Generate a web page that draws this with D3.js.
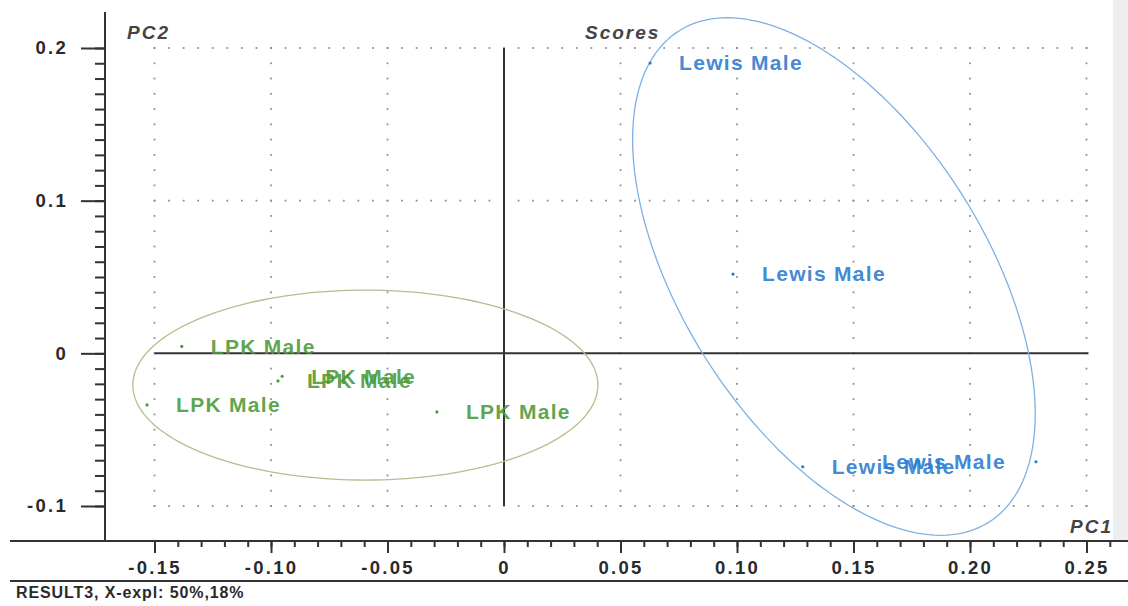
<!DOCTYPE html>
<html>
<head>
<meta charset="utf-8">
<script src="https://cdn.jsdelivr.net/npm/d3@7"></script>
<style>
  body { margin: 0; background: #fff; }
  svg { display: block; font-family: "Liberation Sans", Arial, sans-serif; }
</style>
</head>
<body>
<div id="chart"></div>
<script>
// scores (PC1, PC2) per sample
const lpkPC1 = [-0.1383, -0.0970, -0.0952, -0.1532, -0.0288];
const lpkPC2 = [0.0045, -0.0181, -0.0150, -0.0338, -0.0384];
const lewisPC1 = [0.0627, 0.0983, 0.1282, 0.2283];
const lewisPC2 = [0.1901, 0.0519, -0.0743, -0.0710];

const groupNames = ["LPK Male", "Lewis Male"];
const groupColors = ["#4a9a38", "#2a7ad0"];

// confidence ellipses: centre, half-widths, correlation
const ellCx = [-0.0595, 0.1416];
const ellCy = [-0.0208, 0.0503];
const ellSx = [0.0998, 0.0864];
const ellSy = [0.0622, 0.1695];
const ellR = [0, -0.53];
const ellColors = ["#b9bc8e", "#7db1e4"];

const xTicks = [-0.15, -0.1, -0.05, 0, 0.05, 0.1, 0.15, 0.2, 0.25];
const xTickLabels = ["-0.15", "-0.10", "-0.05", "0", "0.05", "0.10", "0.15", "0.20", "0.25"];
const yTicks = [-0.1, 0, 0.1, 0.2];
const yTickLabels = ["-0.1", "0", "0.1", "0.2"];

const width = 1128;
const height = 606;
const axisX = 105;
const axisY = 541;

const x = d3.scaleLinear().domain([-0.15, 0.25]).range([154.5, 1086.5]);
const y = d3.scaleLinear().domain([-0.1, 0.2]).range([506, 48]);

const svg = d3
  .select("#chart")
  .append("svg")
  .attr("width", width)
  .attr("height", height);

// scanned page edge on the right
svg
  .append("rect")
  .attr("x", 1113)
  .attr("y", 0)
  .attr("width", width - 1113)
  .attr("height", axisY)
  .attr("fill", "#eeeeee");

// grid dots
const gx = d3.range(-0.15, 0.2501, 0.00625);
const gy = d3.range(-0.1, 0.2001, 0.01);
const grid = svg.append("g").attr("fill", "#909090");
const dots = [];
yTicks.filter((v) => v !== 0).forEach((v) => gx.forEach((u) => dots.push([u, v])));
xTicks.filter((v) => v !== 0).forEach((u) => gy.forEach((v) => dots.push([u, v])));
grid
  .selectAll("rect")
  .data(dots)
  .join("rect")
  .attr("x", (d) => x(d[0]) - 0.9)
  .attr("y", (d) => y(d[1]) - 0.9)
  .attr("width", 1.8)
  .attr("height", 1.8);

// zero lines
svg
  .append("line")
  .attr("x1", x(-0.15))
  .attr("x2", x(0.25) + 2)
  .attr("y1", y(0))
  .attr("y2", y(0))
  .attr("stroke", "#333")
  .attr("stroke-width", 2);
svg
  .append("line")
  .attr("x1", x(0))
  .attr("x2", x(0))
  .attr("y1", y(0.2))
  .attr("y2", y(-0.1))
  .attr("stroke", "#333")
  .attr("stroke-width", 2);

// ellipses
const ellLine = d3
  .line()
  .x((d) => x(d[0]))
  .y((d) => y(d[1]))
  .curve(d3.curveLinearClosed);
const angles = d3.range(0, 2 * Math.PI, Math.PI / 90);
ellCx.forEach((cx, i) => {
  const pts = angles.map((t) => [
    cx + ellSx[i] * Math.cos(t),
    ellCy[i] + ellSy[i] * (ellR[i] * Math.cos(t) + Math.sqrt(1 - ellR[i] * ellR[i]) * Math.sin(t)),
  ]);
  svg
    .append("path")
    .attr("d", ellLine(pts))
    .attr("fill", "none")
    .attr("stroke", ellColors[i])
    .attr("stroke-width", 1.3);
});

// points + labels
const groups = [
  { pc1: lpkPC1, pc2: lpkPC2 },
  { pc1: lewisPC1, pc2: lewisPC2 },
];
groups.forEach((grp, gi) => {
  const pts = grp.pc1.map((v, i) => ({ x: v, y: grp.pc2[i] }));
  const g = svg.append("g").attr("fill", groupColors[gi]);
  g.selectAll("circle")
    .data(pts)
    .join("circle")
    .attr("cx", (d) => x(d.x))
    .attr("cy", (d) => y(d.y))
    .attr("r", 1.6);
  g.selectAll("text")
    .data(pts)
    .join("text")
    .attr("x", (d) => (d.x > 0.2 ? x(d.x) - 30 : x(d.x) + 29))
    .attr("y", (d) => y(d.y))
    .attr("dy", "0.35em")
    .attr("text-anchor", (d) => (d.x > 0.2 ? "end" : "start"))
    .attr("font-size", 21)
    .attr("font-weight", "bold")
    .attr("letter-spacing", 1.3)
    .attr("fill-opacity", 0.9)
    .text(groupNames[gi]);
});

// y axis
const yAxisG = svg.append("g").attr("transform", `translate(${axisX},0)`);
yAxisG
  .call(
    d3.axisLeft(y)
      .tickValues(d3.range(-0.1, 0.2001, 0.01))
      .tickSize(10)
      .tickFormat("")
  )
  .call((g) => g.select(".domain").remove());
const yMajor = svg.append("g").attr("transform", `translate(${axisX},0)`);
yMajor
  .call(
    d3.axisLeft(y)
      .tickValues(yTicks)
      .tickSize(24)
      .tickPadding(13)
      .tickFormat((d, i) => yTickLabels[i])
  )
  .call((g) => g.select(".domain").remove());
svg
  .append("line")
  .attr("x1", axisX)
  .attr("x2", axisX)
  .attr("y1", 12)
  .attr("y2", axisY)
  .attr("stroke", "#333")
  .attr("stroke-width", 2);

// x axis
const xAxisG = svg.append("g").attr("transform", `translate(0,${axisY})`);
xAxisG
  .call(
    d3.axisBottom(x)
      .tickValues(d3.range(-0.15, 0.2601, 0.01))
      .tickSize(6)
      .tickFormat("")
  )
  .call((g) => g.select(".domain").remove());
const xMajor = svg.append("g").attr("transform", `translate(0,${axisY})`);
xMajor
  .call(
    d3.axisBottom(x)
      .tickValues(xTicks)
      .tickSize(12)
      .tickPadding(8)
      .tickFormat((d, i) => xTickLabels[i])
  )
  .call((g) => g.select(".domain").remove());
svg
  .append("line")
  .attr("x1", 10)
  .attr("x2", width)
  .attr("y1", axisY)
  .attr("y2", axisY)
  .attr("stroke", "#333")
  .attr("stroke-width", 2);
svg
  .append("line")
  .attr("x1", 10)
  .attr("x2", width)
  .attr("y1", 581)
  .attr("y2", 581)
  .attr("stroke", "#333")
  .attr("stroke-width", 2);

svg.selectAll(".tick line").attr("stroke", "#333").attr("stroke-width", 2);
svg
  .selectAll(".tick text")
  .attr("fill", "#2a2a2a")
  .attr("font-size", 18.5)
  .attr("font-weight", "bold")
  .attr("letter-spacing", 2.3)
  .style("font-family", '"Liberation Sans", Arial, sans-serif');

// titles
const titleStyle = (t) =>
  t.attr("fill", "#444")
    .attr("font-size", 19)
    .attr("font-weight", "bold")
    .attr("font-style", "italic")
    .attr("letter-spacing", 2);
svg.append("text").attr("x", 127).attr("y", 39).text("PC2").call(titleStyle);
svg.append("text").attr("x", 585).attr("y", 39).text("Scores").call(titleStyle);
svg
  .append("text")
  .attr("x", 1113)
  .attr("y", 533)
  .attr("text-anchor", "end")
  .text("PC1")
  .call(titleStyle);

svg
  .append("text")
  .attr("x", 16)
  .attr("y", 598)
  .attr("fill", "#2a2a2a")
  .attr("font-size", 16)
  .attr("font-weight", "bold")
  .attr("letter-spacing", 0.9)
  .text("RESULT3, X-expl: 50%,18%");
</script>
</body>
</html>
